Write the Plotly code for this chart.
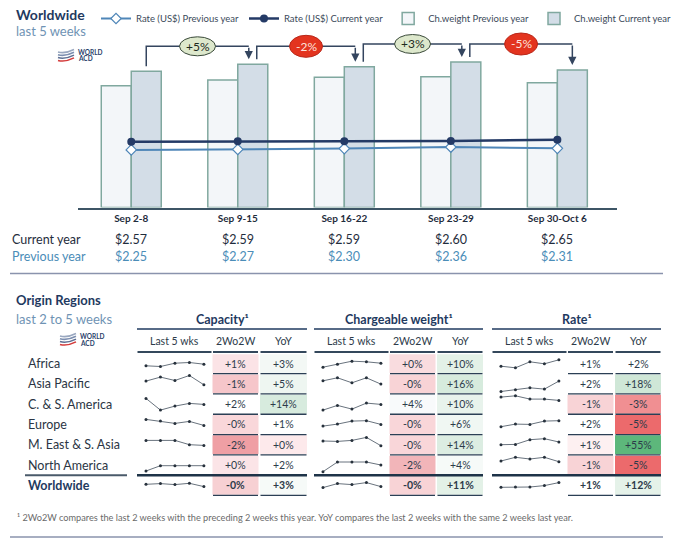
import plotly.graph_objects as go

W, H = 674, 547

# ---------------- data ----------------
WEEKS = ["Sep 2-8", "Sep 9-15", "Sep 16-22", "Sep 23-29", "Sep 30-Oct 6"]
CHW_PREV = [121.8, 127.5, 130.2, 130.8, 124.8]
CHW_CUR = [136.2, 143.2, 140.8, 145.5, 137.5]
RATE_CUR = [2.57, 2.59, 2.59, 2.60, 2.65]
RATE_PREV = [2.25, 2.27, 2.30, 2.36, 2.31]
WOW_LABELS = ["+5%", "-2%", "+3%", "-5%"]

REGIONS = ["Africa", "Asia Pacific", "C. & S. America", "Europe",
           "M. East & S. Asia", "North America", "Worldwide"]

CAP_SPARK = [
    [-2.3, -3.0, 0.3, 1.0, -0.7],
    [2.7, 6.7, 3.3, 8.3, -1.0],
    [5.7, -6.0, -2.0, 0.7, -0.3],
    [5.0, 3.3, 1.0, 3.0, -1.0],
    [4.3, 4.3, 4.3, 0.0, -0.7],
    [-6.0, -0.7, -0.7, -0.7, -0.7],
    [1.0, 1.7, 0.7, 2.0, -1.3],
]
CAP_2W = ["+1%", "-1%", "+2%", "-0%", "-2%", "+0%", "-0%"]
CAP_YOY = ["+3%", "+5%", "+14%", "+1%", "+0%", "+2%", "+3%"]

CHW_SPARK = [
    [-3.7, -0.7, 2.3, 1.7, 0.3],
    [3.0, 6.0, 1.0, 6.0, -0.3],
    [-6.0, -1.3, -5.0, 1.0, -0.3],
    [-1.7, 0.3, 3.3, 3.7, 0.0],
    [3.7, 3.3, 4.3, 7.3, -1.0],
    [-6.7, 3.0, 3.0, 3.0, 0.0],
    [-2.3, 1.7, 0.7, 2.7, -1.3],
]
CHW_2W = ["+0%", "-0%", "+4%", "-0%", "-0%", "-2%", "-0%"]
CHW_YOY = ["+10%", "+16%", "+10%", "+6%", "+14%", "+4%", "+11%"]

RATE_SPARK = [
    [-2.7, -4.3, 1.7, -0.3, 3.7],
    [-7.7, -6.0, -4.0, -5.3, 2.7],
    [7.0, 8.3, 5.0, 5.0, 3.7],
    [-2.3, 0.3, 0.0, 3.3, 3.7],
    [0.0, 0.3, 5.0, 6.0, 2.7],
    [4.0, 7.7, 6.0, 7.7, 3.3],
    [-2.0, -1.7, -1.7, -0.3, 2.7],
]
RATE_2W = ["+1%", "+2%", "-1%", "+2%", "+1%", "-1%", "+1%"]
RATE_YOY = ["+2%", "+18%", "-3%", "-5%", "+55%", "-5%", "+12%"]

# ---------------- styles ----------------
CAP_2W_FILL = ["#fbe3e6", "#f6c6ca", "#ffffff", "#f9d7da", "#ef9fa4", "#fbe4e7", "#f7d0d3"]
CAP_YOY_FILL = ["#f3f8f5", "#eef6f1", "#d7ebde", "#ffffff", "#fde9eb", "#ffffff", "#f6faf8"]
CHW_2W_FILL = ["#f9dcdf", "#f8d3d6", "#f8fafb", "#f9d6d9", "#f9d6d9", "#f2b5b9", "#f8d3d6"]
CHW_YOY_FILL = ["#e3f1e7", "#d6ebdd", "#e8f3ec", "#f0f7f3", "#dcede2", "#f6faf8", "#e3f1e7"]
RATE_2W_FILL = ["#ffffff", "#ffffff", "#f8d3d6", "#ffffff", "#fdf0f1", "#f8d3d6", "#ffffff"]
RATE_YOY_FILL = ["#ffffff", "#cfe7d7", "#f08f92", "#ec6a6c", "#5db77b", "#ec6a6c", "#e5f2e9"]

FONT = "Lato, 'Open Sans', sans-serif"
NAVY = "#1f3a5f"
TXT = "#2d3b4a"


def px(x):
    return x / W


def py(y):
    return 1 - y / H


def note(x, y, text, size, color, xanchor="center"):
    return dict(x=px(x), y=py(y), xref="paper", yref="paper", xanchor=xanchor,
                yanchor="middle", text=text, showarrow=False,
                font=dict(size=size, color=color))


fig = go.Figure()
fig.add_bar(x=WEEKS, y=CHW_PREV, name="Ch.weight Previous year", legendrank=3,
            marker=dict(color="#f3f6f9", line=dict(color="#80a89f", width=1.5)),
            hoverinfo="skip")
fig.add_bar(x=WEEKS, y=CHW_CUR, name="Ch.weight Current year", legendrank=4,
            marker=dict(color="#d3dde7", line=dict(color="#80a89f", width=1.5)),
            hoverinfo="skip")
fig.add_scatter(x=WEEKS, y=RATE_PREV, yaxis="y2", name="Rate (US$) Previous year",
                legendrank=1, mode="lines+markers",
                line=dict(color="#4f86b8", width=2),
                marker=dict(symbol="diamond", size=8, color="white",
                            line=dict(color="#4f86b8", width=1.2)),
                hoverinfo="skip")
fig.add_scatter(x=WEEKS, y=RATE_CUR, yaxis="y2", name="Rate (US$) Current year",
                legendrank=2, mode="lines+markers",
                line=dict(color="#243a66", width=2.5),
                marker=dict(symbol="circle", size=8, color="#243a66"),
                hoverinfo="skip")

# plot area: bottom at 207.5 px, top at 15 px -> 1 unit per px
Y_TOP_PX = 15
Y_RANGE = 207.5 - Y_TOP_PX
RATE_RANGE = Y_RANGE * 2.57 / 65.8

layout = dict(
    width=W, height=H, margin=dict(l=0, r=0, t=0, b=0, autoexpand=False),
    paper_bgcolor="white", plot_bgcolor="rgba(0,0,0,0)",
    font=dict(family=FONT, color=TXT),
    barmode="group", bargap=0.437, bargroupgap=0,
    xaxis=dict(domain=[px(78), px(617)], range=[-0.5, 4.56], showline=True,
               linecolor="#3d5566", linewidth=2, ticks="", showgrid=False,
               tickvals=WEEKS, ticktext=["<b>%s</b>" % w for w in WEEKS],
               tickfont=dict(size=10, color="#1f2d3d"), fixedrange=True),
    yaxis=dict(domain=[py(207.5), py(Y_TOP_PX)], range=[0, Y_RANGE], visible=False,
               fixedrange=True),
    yaxis2=dict(overlaying="y", range=[0, RATE_RANGE], visible=False, fixedrange=True),
    showlegend=True,
    legend=dict(orientation="h", x=px(96), y=py(4), xanchor="left", yanchor="top",
                font=dict(size=9.5, color="#3b4a5a"), bgcolor="rgba(0,0,0,0)",
                traceorder="normal"),
)

shapes = []
annotations = []

# ---------------- connectors with badges ----------------
OFF = 0.1407
NUDGE = 0.0375
for i, lab in enumerate(WOW_LABELS):
    xs = i + OFF + (NUDGE if i > 0 else 0)
    xe = i + 1 + OFF - (NUDGE if i + 1 < len(CHW_CUR) - 1 else 0)
    ys = CHW_CUR[i] + 5
    ytip = CHW_CUR[i + 1] + 5
    yh = max(CHW_CUR[i], CHW_CUR[i + 1]) + 18
    shapes.append(dict(type="path", xref="x", yref="y",
                       path=f"M {xs},{ys} L {xs},{yh} L {xe},{yh}",
                       line=dict(color="#34455f", width=1.5)))
    annotations.append(dict(x=xe, y=ytip, ax=xe, ay=yh, xref="x", yref="y",
                            axref="x", ayref="y", text="", showarrow=True,
                            arrowhead=2, arrowsize=1.1, arrowwidth=1.5,
                            arrowcolor="#34455f"))
    xm = (xs + xe) / 2
    pos = lab.startswith("+")
    hw, hh = (18, 9.5) if pos else (16.5, 11)
    shapes.append(dict(type="circle", xref="x", yref="y", xsizemode="pixel",
                       ysizemode="pixel", xanchor=xm, yanchor=yh,
                       x0=-hw, x1=hw, y0=-hh, y1=hh,
                       fillcolor="#dde8cc" if pos else "#e3341f",
                       line=dict(color="#3a4a3a" if pos else "#b8281a", width=1)))
    annotations.append(dict(x=xm, y=yh, xref="x", yref="y", text=lab, showarrow=False,
                            xanchor="center", yanchor="middle",
                            font=dict(size=12, color="#1e2a1e" if pos else "#fde3dd")))

# ---------------- titles ----------------
annotations += [
    note(14, 14, "<b>Worldwide</b>", 14, NAVY, "left"),
    note(14, 31, "last 5 weeks", 13, "#6f93b4", "left"),
    note(14, 300, "<b>Origin Regions</b>", 13, NAVY, "left"),
    note(14, 319, "last 2 to 5 weeks", 13, "#6f93b4", "left"),
]


def logo(x, y):
    cols = ["#9aa8c0", "#7d8fb0", "#5d6f93", "#d43c3c"]
    for k in range(4):
        y0 = y + 2 + 2.8 * k
        shapes.append(dict(type="path", xref="paper", yref="paper",
                           path=f"M {px(x)},{py(y0 + 1)} Q {px(x + 7)},{py(y0 + 3)} {px(x + 16)},{py(y0 - 1.5)}",
                           line=dict(color=cols[k], width=1.6)))
    annotations.append(note(x + 18, y + 3.5, "<b>WORLD</b>", 6.5, "#2b3f6b", "left"))
    annotations.append(note(x + 18, y + 10, "<b>ACD</b>", 6.5, "#2b3f6b", "left"))


logo(58, 49)
logo(60, 333)

# ---------------- rate value rows ----------------
annotations.append(note(10, 240, "Current year", 12.5, "#1f2d3d", "left"))
annotations.append(note(10, 256, "Previous year", 12.5, "#4b8db8", "left"))
for i, w in enumerate(WEEKS):
    annotations.append(dict(x=i, y=py(240), xref="x", yref="paper", xanchor="center",
                            yanchor="middle", text="$%.2f" % RATE_CUR[i], showarrow=False,
                            font=dict(size=12.5, color="#1f2d3d")))
    annotations.append(dict(x=i, y=py(256), xref="x", yref="paper", xanchor="center",
                            yanchor="middle", text="$%.2f" % RATE_PREV[i], showarrow=False,
                            font=dict(size=12.5, color="#4b8db8")))

shapes.append(dict(type="line", xref="paper", yref="paper", x0=px(10), x1=px(663),
                   y0=py(273.5), y1=py(273.5), line=dict(color="#8a93ad", width=1.5)))
shapes.append(dict(type="line", xref="paper", yref="paper", x0=px(10), x1=px(663),
                   y0=py(537), y1=py(537), line=dict(color="#8a93ad", width=1.5)))

# ---------------- table ----------------
ROW_Y = [363.5 + 20.3 * r for r in range(len(REGIONS))]
HALF = 10.15
GROUPS = [
    ("Capacity¹", CAP_SPARK, CAP_2W, CAP_YOY, CAP_2W_FILL, CAP_YOY_FILL,
     (137, 212), (212.5, 258.5), (260, 307)),
    ("Chargeable weight¹", CHW_SPARK, CHW_2W, CHW_YOY, CHW_2W_FILL, CHW_YOY_FILL,
     (314, 389), (389.5, 435.5), (437, 483)),
    ("Rate¹", RATE_SPARK, RATE_2W, RATE_YOY, RATE_2W_FILL, RATE_YOY_FILL,
     (492, 567), (567.5, 613.5), (615, 661)),
]

n_ax = 3
for title, spark, v2w, vyoy, f2w, fyoy, c_sp, c_2w, c_yoy in GROUPS:
    gx0, gx1 = c_sp[0], c_yoy[1]
    annotations.append(note((gx0 + gx1) / 2, 319, "<b>%s</b>" % title, 12.5, NAVY))
    shapes.append(dict(type="line", xref="paper", yref="paper", x0=px(gx0), x1=px(gx1),
                       y0=py(329), y1=py(329), line=dict(color=NAVY, width=1.5)))
    for (cx0, cx1), sub in zip([c_sp, c_2w, c_yoy], ["Last 5 wks", "2Wo2W", "YoY"]):
        annotations.append(note((cx0 + cx1) / 2, 341, sub, 10.5, TXT))
        shapes.append(dict(type="line", xref="paper", yref="paper", x0=px(cx0 + 0.5),
                           x1=px(cx1 - 0.5), y0=py(352), y1=py(352),
                           line=dict(color="#34485c", width=2)))
    for r, reg in enumerate(REGIONS):
        cy = ROW_Y[r]
        bold = reg == "Worldwide"
        for (cx0, cx1), val, fill in [(c_2w, v2w[r], f2w[r]), (c_yoy, vyoy[r], fyoy[r])]:
            shapes.append(dict(type="rect", xref="paper", yref="paper", layer="below",
                               x0=px(cx0), x1=px(cx1), y0=py(cy + HALF - 0.6),
                               y1=py(cy - HALF + 0.8), fillcolor=fill, line=dict(width=0)))
            if r != len(REGIONS) - 2:
                shapes.append(dict(type="line", xref="paper", yref="paper",
                                   x0=px(cx0 + 0.5), x1=px(cx1 - 0.5),
                                   y0=py(cy + HALF), y1=py(cy + HALF),
                                   line=dict(color="#2b3f55", width=1.3)))
            annotations.append(note((cx0 + cx1) / 2, cy,
                                    ("<b>%s</b>" % val) if bold else val, 10.5, TXT))
        # sparkline
        fig.add_scatter(x=list(range(len(spark[r]))), y=spark[r],
                        xaxis="x%d" % n_ax, yaxis="y%d" % n_ax, mode="lines+markers",
                        line=dict(color="#69737e", width=1),
                        marker=dict(size=3, color="#27313c"),
                        showlegend=False, hoverinfo="skip")
        layout["xaxis%d" % n_ax] = dict(domain=[px(c_sp[0]), px(c_sp[1])],
                                        range=[-0.62, 4.56], visible=False,
                                        anchor="y%d" % n_ax, fixedrange=True)
        layout["yaxis%d" % n_ax] = dict(domain=[py(cy + HALF), py(cy - HALF)],
                                        range=[-HALF, HALF], visible=False,
                                        anchor="x%d" % n_ax, fixedrange=True)
        n_ax += 1
    yb = ROW_Y[-2] + HALF
    shapes.append(dict(type="line", xref="paper", yref="paper", x0=px(gx0), x1=px(gx1),
                       y0=py(yb), y1=py(yb), line=dict(color="#1e3348", width=2.5)))

yb = ROW_Y[-2] + HALF
shapes.append(dict(type="line", xref="paper", yref="paper", x0=px(25), x1=px(127),
                   y0=py(yb), y1=py(yb), line=dict(color="#4a5a6a", width=2)))

for r, reg in enumerate(REGIONS):
    bold = reg == "Worldwide"
    annotations.append(note(26, ROW_Y[r], ("<b>%s</b>" % reg) if bold else reg, 12.5,
                            NAVY if bold else "#2b3544", "left"))

annotations.append(note(15, 517,
                        "¹ 2Wo2W compares the last 2 weeks with the preceding 2 weeks this year. "
                        "YoY compares the last 2 weeks with the same 2 weeks last year.",
                        9.2, "#6a6a6a", "left"))

layout["shapes"] = shapes
layout["annotations"] = annotations
fig.update_layout(**layout)

fig.write_html("out.html", config={"displayModeBar": False},
               post_script="document.body.style.margin='0';document.body.style.overflow='hidden';")
